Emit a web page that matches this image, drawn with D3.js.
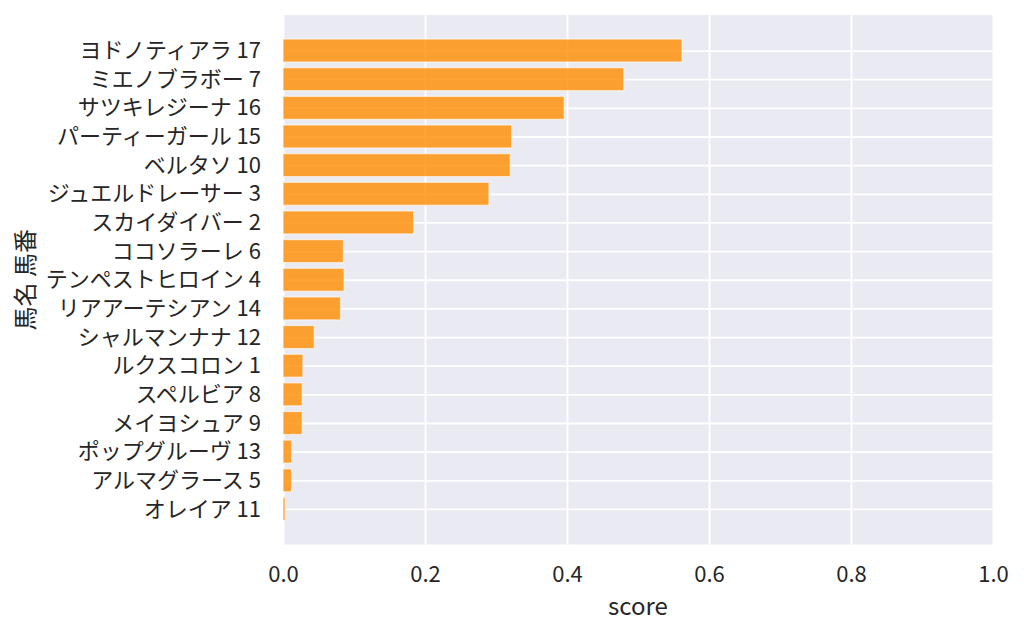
<!DOCTYPE html>
<html>
<head>
<meta charset="utf-8">
<script src="https://cdn.jsdelivr.net/npm/d3@7"></script>
<style>
  body { margin: 0; background: #fff; }
  text { font-family: "Noto Sans CJK JP", "Noto Sans", sans-serif; fill: #262626; }
</style>
</head>
<body>
<svg id="chart" width="1024" height="634"></svg>
<script>
// horse name + number, top to bottom
const horses = [
  "ヨドノティアラ 17", "ミエノブラボー 7", "サツキレジーナ 16", "パーティーガール 15",
  "ベルタソ 10", "ジュエルドレーサー 3", "スカイダイバー 2", "ココソラーレ 6",
  "テンペストヒロイン 4", "リアアーテシアン 14", "シャルマンナナ 12", "ルクスコロン 1",
  "スペルビア 8", "メイヨシュア 9", "ポップグルーヴ 13", "アルマグラース 5", "オレイア 11"
];
const scores = [
  0.562, 0.480, 0.396, 0.322, 0.320, 0.290, 0.184, 0.085,
  0.086, 0.081, 0.044, 0.028, 0.027, 0.027, 0.012, 0.012, 0.003
];
const xTicks = [0, 0.2, 0.4, 0.6, 0.8, 1.0];

const data = horses.map((h, i) => ({ name: h, score: scores[i] }));

const svg = d3.select("#chart");
const margin = { top: 15, right: 31, bottom: 89.5, left: 283 };
const width = +svg.attr("width");
const height = +svg.attr("height");
const innerWidth = width - margin.left - margin.right;
const innerHeight = height - margin.top - margin.bottom;

const xScale = d3.scaleLinear().domain([0, 1]).range([0, innerWidth]);
// matplotlib-like margins around the bars
const yScale = d3.scalePoint().domain(horses).range([0, innerHeight]).padding(1.24);
const barH = yScale.step() * 0.8;

const g = svg.append("g").attr("transform", `translate(${margin.left},${margin.top})`);

g.append("rect")
  .attr("width", innerWidth)
  .attr("height", innerHeight)
  .attr("fill", "#eaeaf2");

// x axis with vertical grid
const xAxisG = g.append("g")
  .attr("transform", `translate(0,${innerHeight})`)
  .call(d3.axisBottom(xScale).tickValues(xTicks).tickFormat(d3.format(".1f"))
    .tickSize(-innerHeight).tickPadding(22));
xAxisG.select(".domain").remove();
xAxisG.selectAll(".tick line").attr("stroke", "#fff").attr("stroke-width", 1.8);
xAxisG.selectAll(".tick text").attr("font-size", 22);

// y axis with horizontal grid
const yAxisG = g.append("g")
  .call(d3.axisLeft(yScale).tickSize(-innerWidth).tickPadding(22));
yAxisG.select(".domain").remove();
yAxisG.selectAll(".tick line").attr("stroke", "#fff").attr("stroke-width", 1.8);
yAxisG.selectAll(".tick text").attr("font-size", 22);

// bars
g.selectAll("rect.bar")
  .data(data)
  .enter()
  .append("rect")
  .attr("class", "bar")
  .attr("x", 0)
  .attr("y", (d) => yScale(d.name) - barH / 2)
  .attr("width", (d) => xScale(d.score))
  .attr("height", barH)
  .attr("fill", "#ff8c00")
  .attr("fill-opacity", 0.8)
  .attr("stroke", "#fff")
  .attr("stroke-opacity", 0.6)
  .attr("stroke-width", 1.2);

// axis labels
svg.append("text")
  .attr("x", margin.left + innerWidth / 2)
  .attr("y", 615)
  .attr("text-anchor", "middle")
  .attr("font-size", 24)
  .text("score");

svg.append("text")
  .attr("transform", `translate(34,${margin.top + innerHeight / 2}) rotate(-90)`)
  .attr("text-anchor", "middle")
  .attr("font-size", 24)
  .text("馬名 馬番");
</script>
</body>
</html>
